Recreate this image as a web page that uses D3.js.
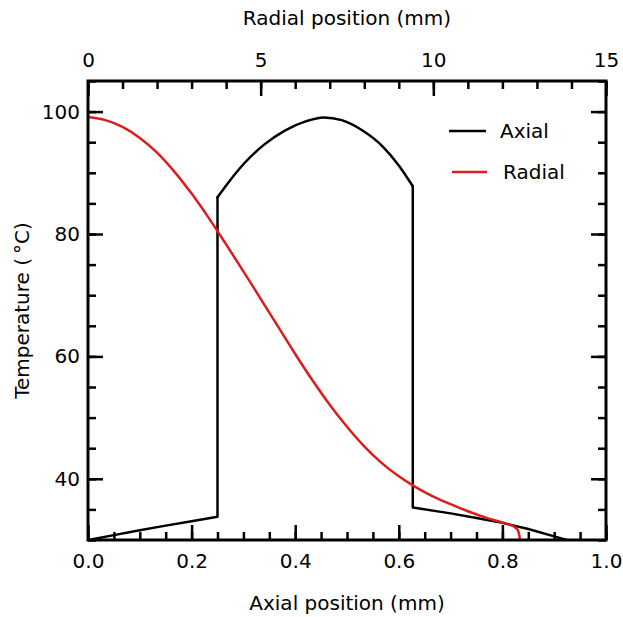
<!DOCTYPE html>
<html>
<head>
<meta charset="utf-8">
<script src="https://cdn.jsdelivr.net/npm/d3@7"></script>
<style>
  body { margin: 0; background: #fff; }
  text { font-family: "DejaVu Sans", Verdana, sans-serif; }
</style>
</head>
<body>
<div id="chart"></div>
<script>
// Axial profile, three pieces: [axial position (mm), temperature (°C)]
const axialLeft = [
  [0.00, 30.0], [0.05, 30.8], [0.10, 31.6], [0.15, 32.35], [0.20, 33.05],
  [0.25, 33.8], [0.25, 86.0]
];
const axialDome = [
  [0.250, 86.0], [0.270, 88.3], [0.300, 91.4], [0.340, 94.6], [0.380, 96.9],
  [0.420, 98.4], [0.455, 99.05], [0.490, 98.6], [0.530, 96.9], [0.570, 94.2],
  [0.600, 91.2], [0.627, 87.8]
];
const axialRight = [
  [0.627, 87.8], [0.627, 35.3], [0.70, 34.35], [0.75, 33.6], [0.80, 32.8],
  [0.85, 31.8], [0.90, 30.6], [0.924, 30.0]
];

// Radial profile: [radial position (mm), temperature (°C)]
const radialData = [
  [0.0, 99.1], [0.5, 98.6], [1.0, 97.5], [1.5, 95.7], [2.0, 93.3],
  [2.5, 90.2], [3.0, 86.6], [3.5, 82.6], [4.0, 78.3], [4.5, 73.9],
  [5.0, 69.4], [5.5, 64.9], [6.0, 60.4], [6.5, 56.1], [7.0, 52.1],
  [7.5, 48.5], [8.0, 45.3], [8.5, 42.6], [9.0, 40.4], [9.5, 38.6],
  [10.0, 37.1], [10.5, 35.85], [11.0, 34.7], [11.5, 33.7], [12.0, 32.85],
  [12.3, 32.3], [12.45, 31.6], [12.51, 30.0]
];

const bottomTicks = [0, 0.2, 0.4, 0.6, 0.8, 1.0];
const bottomMinor = d3.range(0, 1.0001, 0.05);
const topTicks = [0, 5, 10, 15];
const topMinor = d3.range(0, 15.001, 1);
const leftTicks = [40, 60, 80, 100];
const leftMinor = d3.range(30, 105.001, 5);

const seriesNames = ['Axial', 'Radial'];
const seriesColors = ['#000000', '#dd1c1c'];

const width = 623, height = 617;
const margin = { left: 88, right: 17, top: 81, bottom: 77 };
const majorLen = 15, minorLen = 8;
const fontSize = '20px';

const svg = d3.select('#chart').append('svg')
  .attr('width', width)
  .attr('height', height);

const x = d3.scaleLinear().domain([0, 1]).range([margin.left, width - margin.right]);
const xTop = d3.scaleLinear().domain([0, 15]).range([margin.left, width - margin.right]);
const y = d3.scaleLinear().domain([30, 105]).range([height - margin.bottom, margin.top]);

const x0 = margin.left, x1 = width - margin.right;
const y0 = height - margin.bottom, y1 = margin.top;

// curves, clipped to plot area
svg.append('clipPath').attr('id', 'plot-clip')
  .append('rect')
  .attr('x', x0).attr('y', y1)
  .attr('width', x1 - x0).attr('height', y0 - y1);

const plot = svg.append('g').attr('clip-path', 'url(#plot-clip)');

const straight = d3.line().x(d => x(d[0])).y(d => y(d[1]));
const smooth = d3.line().curve(d3.curveMonotoneX).x(d => x(d[0])).y(d => y(d[1]));

[[axialLeft, straight], [axialDome, smooth], [axialRight, straight]].forEach(([data, gen]) => {
  plot.append('path')
    .datum(data)
    .attr('fill', 'none')
    .attr('stroke', seriesColors[0])
    .attr('stroke-width', 2.5)
    .attr('stroke-linejoin', 'round')
    .attr('stroke-linecap', 'round')
    .attr('d', gen);
});

plot.append('path')
  .datum(radialData)
  .attr('fill', 'none')
  .attr('stroke', seriesColors[1])
  .attr('stroke-width', 2.5)
  .attr('stroke-linejoin', 'round')
  .attr('d', d3.line().curve(d3.curveMonotoneX).x(d => xTop(d[0])).y(d => y(d[1])));

// axes with inward ticks
function styleAxis(g) {
  g.select('.domain').remove();
  g.selectAll('.tick line').attr('stroke', '#000').attr('stroke-width', 2.5);
  g.selectAll('.tick text').attr('font-size', fontSize).attr('fill', '#000')
    .attr('font-family', '"DejaVu Sans", Verdana, sans-serif');
}

svg.append('g').attr('transform', `translate(0,${y0})`)
  .call(d3.axisBottom(x).tickValues(bottomMinor).tickSize(-minorLen).tickFormat(''))
  .call(styleAxis);
svg.append('g').attr('transform', `translate(0,${y0})`)
  .call(d3.axisBottom(x).tickValues(bottomTicks).tickSize(-majorLen).tickFormat(d3.format('.1f')))
  .call(styleAxis)
  .call(g => g.selectAll('.tick text').attr('y', 14).attr('dy', '0.71em'));

svg.append('g').attr('transform', `translate(0,${y1})`)
  .call(d3.axisTop(xTop).tickValues(topMinor).tickSize(-minorLen).tickFormat(''))
  .call(styleAxis);
svg.append('g').attr('transform', `translate(0,${y1})`)
  .call(d3.axisTop(xTop).tickValues(topTicks).tickSize(-majorLen).tickFormat(d3.format('d')))
  .call(styleAxis)
  .call(g => g.selectAll('.tick text').attr('y', -14).attr('dy', '0'));

svg.append('g').attr('transform', `translate(${x0},0)`)
  .call(d3.axisLeft(y).tickValues(leftMinor).tickSize(-minorLen).tickFormat(''))
  .call(styleAxis);
svg.append('g').attr('transform', `translate(${x0},0)`)
  .call(d3.axisLeft(y).tickValues(leftTicks).tickSize(-majorLen).tickFormat(d3.format('d')))
  .call(styleAxis)
  .call(g => g.selectAll('.tick text').attr('x', -8));

svg.append('g').attr('transform', `translate(${x1},0)`)
  .call(d3.axisRight(y).tickValues(leftMinor).tickSize(-minorLen).tickFormat(''))
  .call(styleAxis);
svg.append('g').attr('transform', `translate(${x1},0)`)
  .call(d3.axisRight(y).tickValues(leftTicks).tickSize(-majorLen).tickFormat(''))
  .call(styleAxis);

// frame
svg.append('rect')
  .attr('x', x0).attr('y', y1)
  .attr('width', x1 - x0).attr('height', y0 - y1)
  .attr('fill', 'none')
  .attr('stroke', '#000')
  .attr('stroke-width', 3);

// axis titles
svg.append('text')
  .attr('x', (x0 + x1) / 2).attr('y', 610)
  .attr('text-anchor', 'middle')
  .attr('font-size', fontSize)
  .text('Axial position (mm)');

svg.append('text')
  .attr('x', (x0 + x1) / 2).attr('y', 25)
  .attr('text-anchor', 'middle')
  .attr('font-size', fontSize)
  .text('Radial position (mm)');

svg.append('text')
  .attr('transform', `translate(29,${(y0 + y1) / 2}) rotate(-90)`)
  .attr('text-anchor', 'middle')
  .attr('font-size', fontSize)
  .text('Temperature (\u2009°C)');

// legend
const legend = svg.append('g');
seriesNames.forEach((name, i) => {
  const ly = 131 + i * 41;
  legend.append('line')
    .attr('x1', 449 + i * 3).attr('x2', 486 + i * 1)
    .attr('y1', ly).attr('y2', ly)
    .attr('stroke', seriesColors[i])
    .attr('stroke-width', 2.5);
  legend.append('text')
    .attr('x', 500 + i * 3).attr('y', ly)
    .attr('dominant-baseline', 'central')
    .attr('font-size', fontSize)
    .text(name);
});
</script>
</body>
</html>
